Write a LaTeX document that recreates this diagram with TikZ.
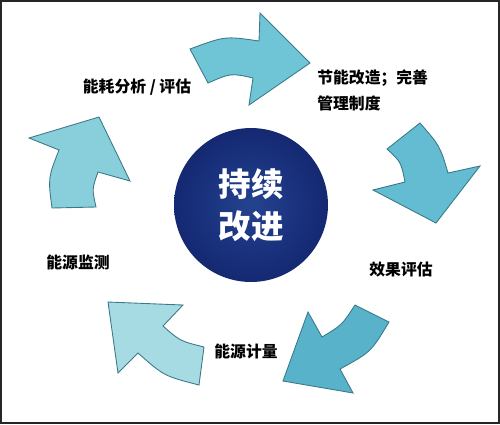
\documentclass[tikz,border=0pt]{standalone}
\usepackage{fontspec}
\newfontfamily\cjk{Noto Sans CJK SC}
\definecolor{arrowedge}{HTML}{3A7A88}
\definecolor{stepA}{HTML}{6FC5D6}
\definecolor{stepB}{HTML}{63BCD1}
\definecolor{stepC}{HTML}{58B3CA}
\definecolor{stepD}{HTML}{A6DBE3}
\definecolor{stepE}{HTML}{88CFDB}
\definecolor{ballin}{HTML}{24438F}
\definecolor{ballmid}{HTML}{172D78}
\definecolor{ballout}{HTML}{0A1552}
\pgfdeclareradialshading{ballshade}{\pgfpoint{0bp}{0bp}}{color(0bp)=(ballin); color(20bp)=(ballmid); color(50bp)=(ballout); color(100bp)=(ballout)}
\tikzset{
  lbl/.style={font=\cjk\bfseries\fontsize{9}{14.8}\selectfont, inner sep=0pt},
  cyc/.style={draw=arrowedge, line width=0.5pt, line join=miter},
}
\begin{document}
\begin{tikzpicture}[x=0.02cm,y=-0.02cm]
\useasboundingbox (0,0) rectangle (500,424);
\draw[black!85, line width=1.2pt] (1,1) rectangle (499,423);

\node[circle, minimum size=3.08cm, shading=ballshade, text=white, align=center,
  font=\cjk\bfseries\fontsize{18.5}{24}\selectfont] (core) at (251,205) {持续\\改进};

\fill[stepA, cyc] (190,49) .. controls (225,36) .. (259,41) -- (260,13) -- (310,63)
  -- (249,105) -- (253,78) .. controls (231,73) .. (208,83) -- cycle;
\fill[stepB, cyc] (420,123) .. controls (440,146) .. (448,173) -- (480,166) -- (436,223)
  -- (373,190) -- (405,182) .. controls (401,162) .. (387,149) -- cycle;
\fill[stepC, cyc] (389,322) .. controls (371,352) .. (340,369) -- (353,393) -- (283,381)
  -- (308,312) -- (322,337) .. controls (342,325) .. (355,305) -- cycle;
\fill[stepD, cyc] (199,385) .. controls (164,376) .. (138,353) -- (118,373) -- (108,302)
  -- (183,305) -- (163,326) .. controls (180,341) .. (204,347) -- cycle;
\fill[stepE, cyc] (52,208) .. controls (48,178) .. (59,150) -- (29,138) -- (99,117)
  -- (130,181) -- (98,172) .. controls (92,189) .. (96,207) -- cycle;

\node[lbl] (ana) at (137,87) {能耗分析 / 评估};
\node[lbl, anchor=west, align=left] (ret) at (317,90) {节能改造；完善\\管理制度};
\node[lbl] (eff) at (401,269) {效果评估};
\node[lbl] (met) at (246,351) {能源计量};
\node[lbl] (mon) at (78,262) {能源监测};
\end{tikzpicture}
\end{document}
